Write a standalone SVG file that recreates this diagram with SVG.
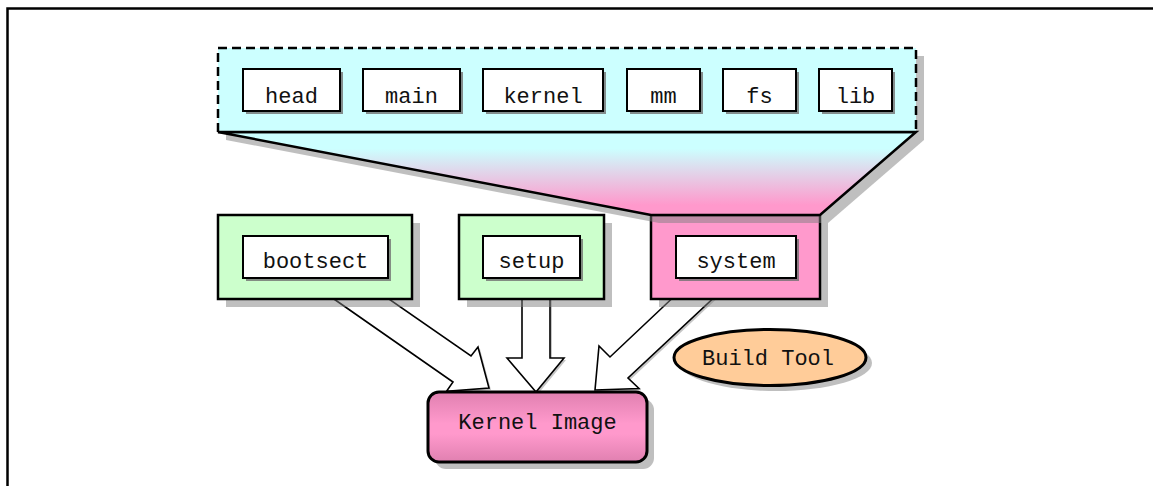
<svg xmlns="http://www.w3.org/2000/svg" width="1153" height="486" viewBox="0 0 1153 486">
<defs>
<linearGradient id="funnelGrad" x1="0" y1="132" x2="0" y2="215" gradientUnits="userSpaceOnUse">
<stop offset="0.2" stop-color="#ccffff"/>
<stop offset="0.88" stop-color="#ff99cc"/>
</linearGradient>
<linearGradient id="kernGrad" x1="0" y1="0" x2="0" y2="1">
<stop offset="0" stop-color="#e080b0"/>
<stop offset="0.45" stop-color="#ff99cc"/>
<stop offset="0.6" stop-color="#ff99cc"/>
<stop offset="1" stop-color="#e080b0"/>
</linearGradient>
<style>
.sh{fill:#808080;fill-opacity:0.5;stroke:none}
.ash{fill:#808080;fill-opacity:0.45;stroke:none}
.outer{stroke:#000;stroke-width:2.5}
.green{fill:#ccffcc}
.pink{fill:#ff99cc}
.inner{fill:#fff;stroke:#000;stroke-width:2}
.ish{fill:#707070;fill-opacity:0.8}
.arrow{fill:#fff;stroke:#000;stroke-width:1.6;stroke-linejoin:miter}
text{font-family:"Liberation Mono","DejaVu Sans Mono",monospace;font-size:22px;fill:#111;text-anchor:middle}
</style>
</defs>
<rect width="1153" height="486" fill="#fff"/>
<g id="frame">
<path d="M7.5,486 V8.5 H1153" fill="none" stroke="#000" stroke-width="2.5"/>
</g>
<g id="connectors">
<polygon class="ash" points="323,292 455,384 448.5,393.3 491,390 480,349 473,358 378,292"/>
<polygon class="arrow" points="321,290 453,382 446.5,391.3 489,388 478,347 471,356 376,290"/>
<polygon class="ash" points="524,292 524,360 509,360 538,394 566,360 552,360 552,292"/>
<polygon class="arrow" points="522,290 522,358 507,358 536,392 564,358 550,358 550,290"/>
<polygon class="ash" points="683,292 612,359 601,348 597,392 641,390.5 630,380 724,292"/>
<polygon class="arrow" points="681,290 610,357 599,346 595,390 639,388.5 628,378 722,290"/>
</g>
<g id="bootsect">
<rect class="sh" x="226" y="223" width="194" height="84"/>
<rect class="outer green" x="218" y="215" width="194" height="84"/>
<rect class="ish" x="246" y="239" width="145" height="42"/>
<rect class="inner" x="243" y="236" width="145" height="42"/>
<text x="315.5" y="268">bootsect</text>
</g>
<g id="setup">
<rect class="sh" x="467" y="223" width="145" height="84"/>
<rect class="outer green" x="459" y="215" width="145" height="84"/>
<rect class="ish" x="486" y="239" width="97" height="42"/>
<rect class="inner" x="483" y="236" width="97" height="42"/>
<text x="531.5" y="268">setup</text>
</g>
<g id="system">
<rect class="sh" x="659" y="223" width="169" height="84"/>
<rect class="outer pink" x="651" y="215" width="169" height="84"/>
<rect class="ish" x="679" y="239" width="120" height="42"/>
<rect class="inner" x="676" y="236" width="120" height="42"/>
<text x="736" y="268">system</text>
</g>
<g id="modules">
<path class="sh" d="M226,56 H924 V140 L828,223 H659 L226,140 Z"/>
<polygon points="218,132 916,132 820,215 651,215" fill="url(#funnelGrad)" stroke="#000" stroke-width="2.5" stroke-linejoin="miter"/>
<rect x="218" y="48" width="698" height="84" fill="#ccffff" stroke="none"/>
<path d="M218,132 V48 H916 V132" fill="none" stroke="#000" stroke-width="2.5" stroke-dasharray="9,5"/>
<line x1="218" y1="132" x2="916" y2="132" stroke="#000" stroke-width="2.5"/>
<g id="head">
<rect class="ish" x="246" y="72" width="97" height="42"/>
<rect class="inner" x="243" y="69" width="97" height="42"/>
<text x="291.5" y="103">head</text>
</g>
<g id="main">
<rect class="ish" x="366" y="72" width="97" height="42"/>
<rect class="inner" x="363" y="69" width="97" height="42"/>
<text x="411.5" y="103">main</text>
</g>
<g id="kernel">
<rect class="ish" x="486" y="72" width="120" height="42"/>
<rect class="inner" x="483" y="69" width="120" height="42"/>
<text x="543" y="103">kernel</text>
</g>
<g id="mm">
<rect class="ish" x="630" y="72" width="73" height="42"/>
<rect class="inner" x="627" y="69" width="73" height="42"/>
<text x="663.5" y="103">mm</text>
</g>
<g id="fs">
<rect class="ish" x="726" y="72" width="73" height="42"/>
<rect class="inner" x="723" y="69" width="73" height="42"/>
<text x="759.5" y="103">fs</text>
</g>
<g id="lib">
<rect class="ish" x="822" y="72" width="73" height="42"/>
<rect class="inner" x="819" y="69" width="73" height="42"/>
<text x="855.5" y="103">lib</text>
</g>
</g>
<g id="kernel-image">
<rect class="sh" x="435" y="399" width="219" height="70" rx="11"/>
<rect x="428" y="392" width="219" height="70" rx="11" fill="url(#kernGrad)" stroke="#000" stroke-width="3"/>
<text x="537.5" y="429">Kernel Image</text>
</g>
<g id="build-tool">
<ellipse class="sh" cx="776" cy="363" rx="96" ry="28"/>
<ellipse cx="770" cy="357.5" rx="96" ry="28" fill="#ffcc99" stroke="#000" stroke-width="3"/>
<text x="768" y="365">Build Tool</text>
</g>
</svg>
